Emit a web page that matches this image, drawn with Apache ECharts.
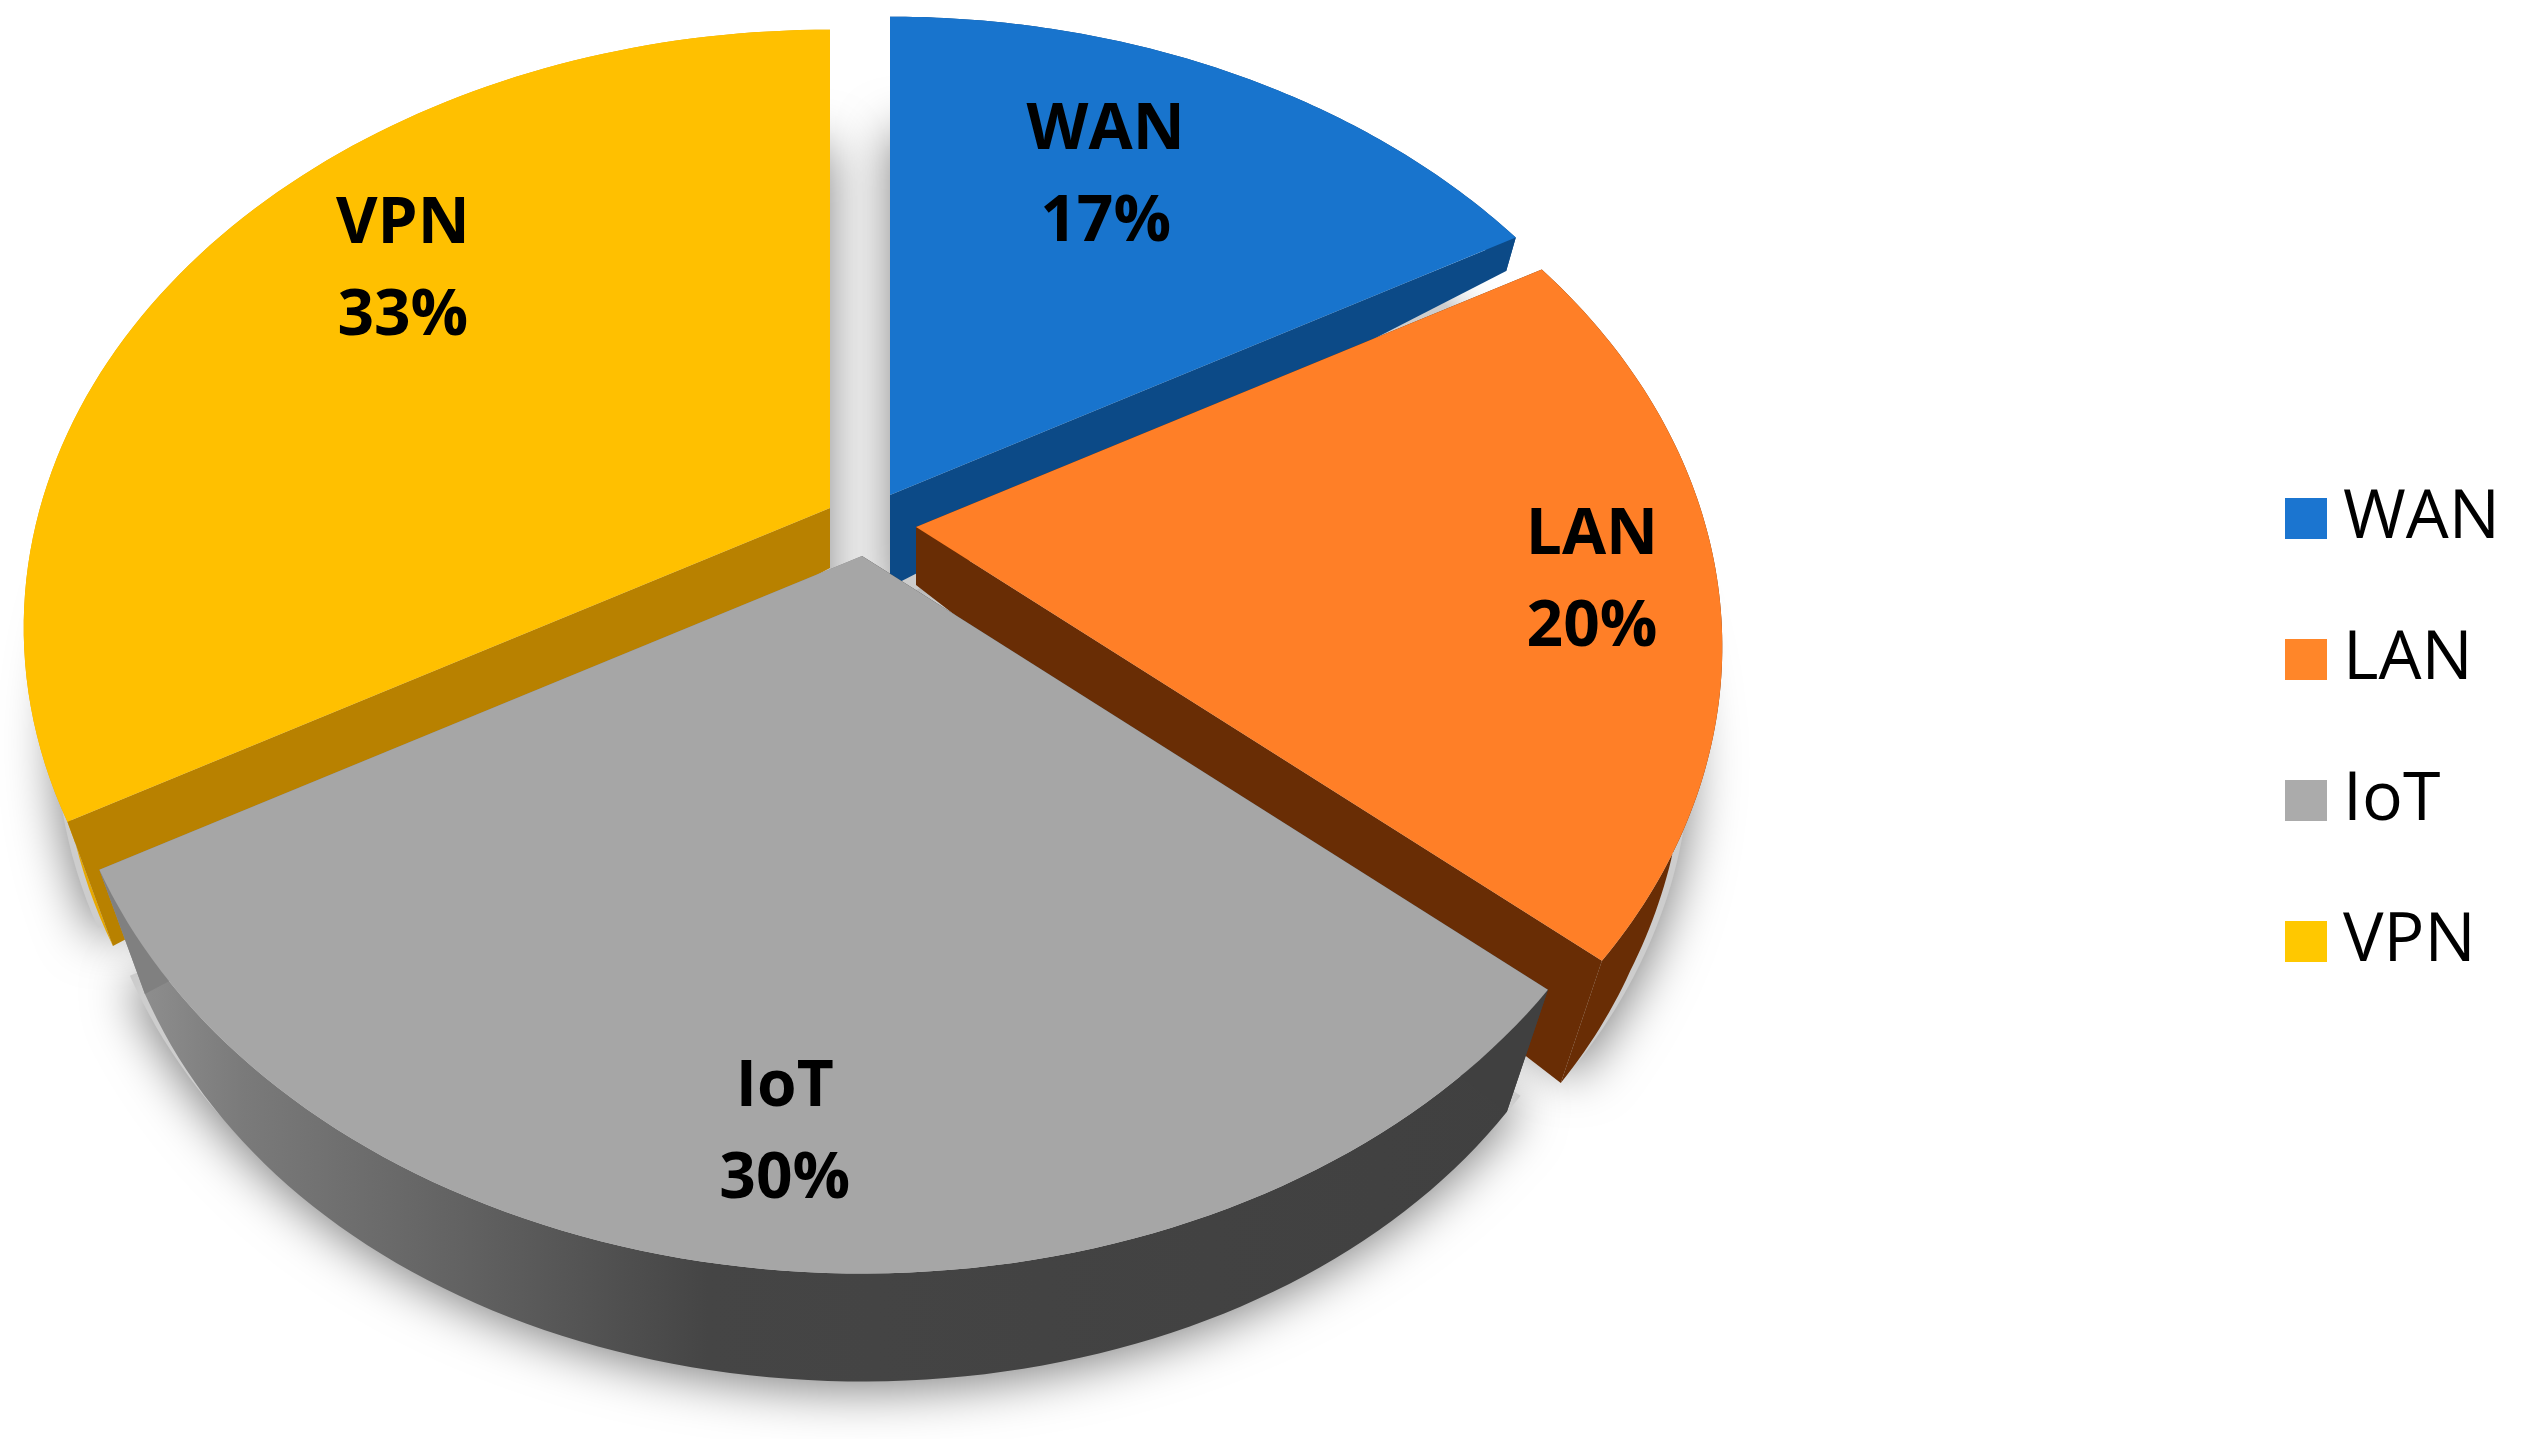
<!DOCTYPE html>
<html>
<head>
<meta charset="utf-8">
<style>
  html, body { margin: 0; padding: 0; background: #fff; }
  #chart { width: 2527px; height: 1439px; }
</style>
<script src="https://cdn.jsdelivr.net/npm/echarts@6/dist/echarts.min.js"></script>
</head>
<body>
<div id="chart"></div>
<script>
const categories = ['WAN', 'LAN', 'IoT', 'VPN'];
// the labels show them rounded
const shareValues = [16.8, 19.6, 30.4, 33.2];

const topColors = ['#1874CD', '#FF7F27', '#A6A6A6', '#FFC000'];
const legendColors = ['#1B75D0', '#FF8629', '#ABABAB', '#FFC800'];
const startCutColors = ['#0C4A87', '#692D05', '#404040', '#B88100'];
const endCutColors = ['#0C4A87', '#692D05', '#808080', '#B88100'];

// where each exploded slice has its tip, in pixels
const sliceTips = [[890, 495], [916, 527], [862, 556], [830, 508]];
const tipExtraDrop = [34, 0, 0, 2];
const labelRadius = [0.70, 0.845, 0.84, 0.745];
const labelTurn = [-4.2, 0.4, -0.2, 7.4];

// tilted disc: the front is nearer than the back, so it is a projected circle
const radiusX = 790;
const radiusY = 574;
const perspective = 0.2;
const steps = 90;

const total = shareValues.reduce((a, b) => a + b, 0);

function project(angle, frac, tip) {
  const x = frac * Math.sin(angle);
  const y = frac * Math.cos(angle);
  const d = 1 + perspective * y;
  return [tip[0] + (radiusX * x) / d, tip[1] - (radiusY * y) / d];
}

// lower edge of the outer wall, under the rim point at this angle
function baseOf(p, angle, tip) {
  const x = Math.sin(angle);
  const y = Math.cos(angle);
  const shrink = Math.max(0.94, 0.9625 + 0.045 * y);
  const side = Math.min(1, Math.max(0, -3 * y));
  const drop = 58 - 50 * y + 55 * x * x * side;
  return [tip[0] + (p[0] - tip[0]) * shrink, p[1] + drop];
}

function arc(a0, a1, tip) {
  const pts = [];
  for (let i = 0; i <= steps; i++) {
    pts.push(project(a0 + ((a1 - a0) * i) / steps, 1, tip));
  }
  return pts;
}

function angleOf(v) {
  return (v / total) * Math.PI * 2;
}

function poly(points, style) {
  return { type: 'polygon', silent: true, shape: { points }, style };
}

function renderSlice(params, api) {
  const i = api.value(2);
  const tip = sliceTips[i];
  const a0 = angleOf(api.value(1));
  const a1 = angleOf(api.value(1) + api.value(0));
  const rim = arc(a0, a1, tip);
  const base = rim.map((p, n) => baseOf(p, a0 + ((a1 - a0) * n) / steps, tip));
  const tipBase = [tip[0], tip[1] + 58 + tipExtraDrop[i]];

  let outerFill = startCutColors[i];
  if (i === 2) {
    outerFill = new echarts.graphic.LinearGradient(0, 0, 1, 0, [
      { offset: 0, color: '#969696' },
      { offset: 0.1, color: '#7A7A7A' },
      { offset: 0.25, color: '#626262' },
      { offset: 0.42, color: '#454545' },
      { offset: 1, color: '#404040' },
    ]);
  } else if (i === 3) {
    outerFill = '#E8A900';
  }

  const mid = angleOf(api.value(1) + api.value(0) / 2) + (labelTurn[i] * Math.PI) / 180;
  const labelAt = project(mid, labelRadius[i], tip);

  return {
    type: 'group',
    children: [
      poly(rim.concat(base.slice().reverse()), { fill: outerFill }),
      poly([tip, rim[0], base[0], tipBase], { fill: startCutColors[i] }),
      poly([tip, rim[steps], base[steps], tipBase], { fill: endCutColors[i] }),
      poly([tip].concat(rim), { fill: topColors[i] }),
      {
        type: 'text',
        silent: true,
        style: {
          x: labelAt[0],
          y: labelAt[1] + 2,
          text: categories[i] + '\n' + Math.round((api.value(0) / total) * 100) + '%',
          align: 'center',
          verticalAlign: 'middle',
          fontFamily: 'Open Sans',
          fontWeight: 'bold',
          fontSize: 64,
          lineHeight: 92,
          fill: '#000',
        },
      },
    ],
  };
}

// soft shadow lying under all the slices
function renderShadow(params, api) {
  const i = api.value(2);
  const tip = sliceTips[i];
  const a0 = angleOf(api.value(1));
  const a1 = angleOf(api.value(1) + api.value(0));
  const outline = [tip].concat(arc(a0, a1, tip)).map(p => [
    tip[0] + (p[0] - tip[0]) * 0.96,
    p[1] + 106,
  ]);
  return poly(outline, {
    fill: '#CDCDCD',
    shadowBlur: 50,
    shadowOffsetY: 10,
    shadowColor: 'rgba(0, 0, 0, 0.5)',
  });
}

function sliceRow(i) {
  const before = shareValues.slice(0, i).reduce((a, b) => a + b, 0);
  return [shareValues[i], before, i];
}

const chart = echarts.init(document.getElementById('chart'));

chart.setOption({
  animation: false,
  backgroundColor: '#fff',
  legend: {
    orient: 'vertical',
    left: 2280,
    top: 472,
    itemWidth: 42,
    itemHeight: 41,
    itemGap: 58,
    selectedMode: false,
    icon: 'rect',
    textStyle: { fontFamily: 'Open Sans', fontSize: 68, color: '#000', padding: [6, 0, 0, 11], lineHeight: 77 },
    data: categories.map((name, i) => ({ name, itemStyle: { color: legendColors[i] } })),
  },
  series: [
    {
      type: 'custom',
      name: 'shadow',
      coordinateSystem: 'none',
      silent: true,
      renderItem: renderShadow,
      data: categories.map((c, i) => sliceRow(i)),
    },
  ].concat(
    // painted back to front: VPN, WAN, LAN, then IoT on top
    [3, 0, 1, 2].map(i => ({
      type: 'custom',
      name: categories[i],
      coordinateSystem: 'none',
      silent: true,
      itemStyle: { color: legendColors[i] },
      renderItem: renderSlice,
      data: [sliceRow(i)],
    }))
  ),
});
</script>
</body>
</html>
